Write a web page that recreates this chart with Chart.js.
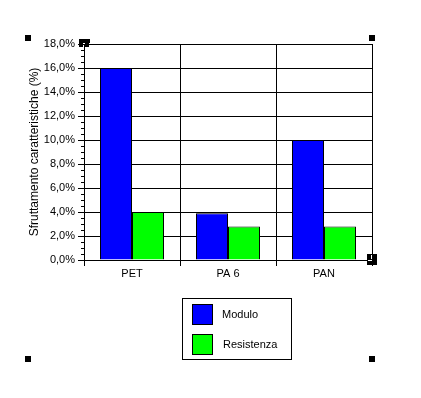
<!DOCTYPE html>
<html lang="it">
<head>
  <meta charset="UTF-8">
  <title>Sfruttamento caratteristiche</title>
  <script src="https://cdn.jsdelivr.net/npm/chart.js"></script>
  <style>
    body { margin: 0; background: #fff; }
    #wrap { width: 421px; height: 398px; }
  </style>
</head>
<body>
  <div id="wrap"><canvas id="chart" width="421" height="398"></canvas></div>

  <script>
    const categories = ['PET', 'PA 6', 'PAN'];
    const modulo = [16.0, 3.9, 10.0];
    const resistenza = [4.0, 2.8, 2.8];
    const yTicks = [0, 2, 4, 6, 8, 10, 12, 14, 16, 18];

    const fmt = v => v.toFixed(1).replace('.', ',') + '%';

    Chart.defaults.font.family = "'Liberation Sans', Arial, sans-serif";
    Chart.defaults.font.size = 11;
    Chart.defaults.color = '#000';

    // minor ticks on the y axis, a little legend box and the selection handles
    const extras = {
      id: 'extras',
      afterDraw(chart) {
        const ctx = chart.ctx;
        const y = chart.scales.y;
        const area = chart.chartArea;
        ctx.save();
        ctx.strokeStyle = '#000';
        ctx.lineWidth = 1;
        ctx.beginPath();
        for (let v = 0.5; v < 18; v += 0.5) {
          if (v % 2 === 0) continue;
          const py = Math.round(y.getPixelForValue(v)) + 0.5;
          ctx.moveTo(area.left - 3, py);
          ctx.lineTo(area.left, py);
        }
        ctx.stroke();

        // legend
        ctx.strokeRect(182.5, 298.5, 109, 61);
        const rows = [314, 344];
        chart.data.datasets.forEach((ds, i) => {
          const top = rows[i] - 10;
          ctx.fillStyle = ds.backgroundColor;
          ctx.fillRect(192, top, 20, 20);
          ctx.strokeRect(192.5, top + 0.5, 20, 20);
          ctx.fillStyle = '#000';
          ctx.textBaseline = 'middle';
          ctx.textAlign = 'left';
          ctx.font = "11px 'Liberation Sans', Arial, sans-serif";
          ctx.fillText(ds.label, 222 + i, rows[i] + 1);
        });

        // handles
        ctx.fillStyle = '#000';
        [[25, 35], [369, 35], [25, 356], [369, 356]].forEach(p => ctx.fillRect(p[0], p[1], 6, 6));
        ctx.fillRect(79, 39, 11, 4);
        ctx.fillRect(79, 43, 4, 4);
        ctx.fillRect(85, 43, 4, 4);
        ctx.fillRect(367, 254, 10, 11);
        ctx.fillStyle = '#fff';
        ctx.fillRect(371, 255, 1, 4);
        ctx.fillRect(368, 260, 4, 1);
        ctx.restore();
      }
    };

    new Chart(document.getElementById('chart'), {
      type: 'bar',
      data: {
        labels: categories,
        datasets: [
          { label: 'Modulo', data: modulo, backgroundColor: '#0000ff' },
          { label: 'Resistenza', data: resistenza, backgroundColor: '#00ff00' }
        ]
      },
      options: {
        responsive: false,
        animation: false,
        layout: { padding: { left: 0, right: 49, top: 44, bottom: 108 } },
        datasets: {
          bar: {
            borderColor: '#000',
            borderWidth: 1,
            categoryPercentage: 0.667,
            barPercentage: 1
          }
        },
        plugins: {
          legend: { display: false },
          tooltip: { enabled: false }
        },
        scales: {
          x: {
            grid: { color: '#000', tickColor: '#000', tickLength: 6 },
            border: { color: '#000' },
            ticks: { padding: 1 },
            afterFit(s) { s.height = 30; }
          },
          y: {
            min: 0,
            max: 18,
            afterBuildTicks(s) { s.ticks = yTicks.map(v => ({ value: v })); },
            ticks: { callback: v => fmt(v), padding: 3 },
            grid: { color: '#000', tickColor: '#000', tickLength: 6 },
            border: { color: '#000' },
            title: {
              display: true,
              text: 'Sfruttamento caratteristiche (%)',
              font: { size: 12 },
              padding: { top: 27, bottom: 0 }
            },
            afterFit(s) { s.width = 84; }
          }
        }
      },
      plugins: [extras]
    });
  </script>
</body>
</html>
